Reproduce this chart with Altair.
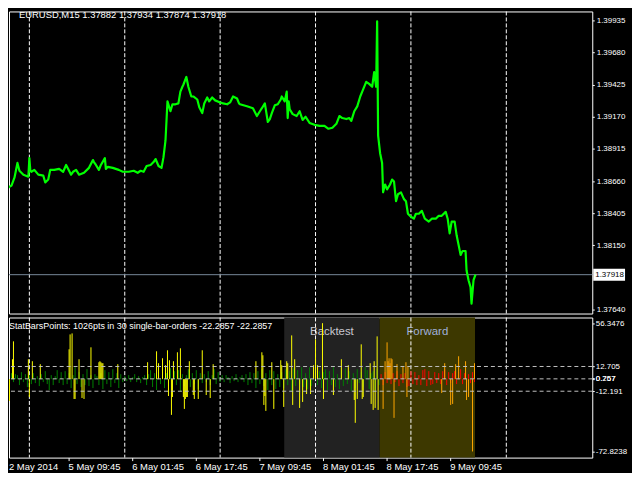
import altair as alt
import pandas as pd

# ---------------- data ----------------
# price line: (bar index, close)
price_points = [
    (0, 1.38656), (1, 1.38695), (2, 1.38571), (4, 1.38610), (7, 1.38625), (10, 1.38687),
    (13, 1.38804), (15, 1.38742), (19, 1.38711), (24, 1.38695), (25, 1.38842), (26, 1.38742),
    (27, 1.38734), (30, 1.38749), (34, 1.38711), (39, 1.38703), (41, 1.38649), (44, 1.38672),
    (46, 1.38749), (50, 1.38749), (55, 1.38757), (59, 1.38734), (62, 1.38788), (65, 1.38742),
    (67, 1.38711), (69, 1.38734), (72, 1.38749), (75, 1.38711), (80, 1.38726), (85, 1.38765),
    (89, 1.38827), (90, 1.38811), (92, 1.38788), (95, 1.38749), (97, 1.38788), (101, 1.38842),
    (102, 1.38757), (104, 1.38773), (109, 1.38765), (112, 1.38757), (115, 1.38749), (119, 1.38734),
    (122, 1.38734), (125, 1.38734), (130, 1.38742), (134, 1.38726), (137, 1.38742), (140, 1.38734),
    (143, 1.38780), (147, 1.38788), (150, 1.38811), (152, 1.38835), (155, 1.38780), (158, 1.38765),
    (160, 1.38850), (162, 1.38982), (163, 1.39137), (164, 1.39292), (167, 1.39214), (169, 1.39269),
    (172, 1.39269), (175, 1.39276), (177, 1.39369), (179, 1.39408), (180, 1.39424), (183, 1.39486),
    (185, 1.39408), (188, 1.39331), (190, 1.39331), (194, 1.39307), (196, 1.39245), (199, 1.39199),
    (201, 1.39276), (204, 1.39323), (206, 1.39292), (209, 1.39323), (212, 1.39300), (217, 1.39284),
    (220, 1.39276), (224, 1.39269), (227, 1.39284), (230, 1.39331), (234, 1.39315), (236, 1.39276),
    (237, 1.39269), (244, 1.39253), (250, 1.39238), (254, 1.39176), (257, 1.39214), (259, 1.39238),
    (262, 1.39276), (265, 1.39129), (267, 1.39152), (269, 1.39199), (272, 1.39261), (275, 1.39269),
    (278, 1.39307), (279, 1.39331), (282, 1.39292), (284, 1.39369), (285, 1.39160), (286, 1.39292),
    (287, 1.39230), (290, 1.39191), (294, 1.39176), (297, 1.39214), (300, 1.39145), (303, 1.39170),
    (307, 1.39121), (312, 1.39106), (317, 1.39098), (322, 1.39098), (326, 1.39075), (330, 1.39083),
    (334, 1.39114), (337, 1.39176), (340, 1.39160), (344, 1.39152), (347, 1.39160), (349, 1.39137),
    (352, 1.39214), (355, 1.39253), (358, 1.39331), (360, 1.39369), (364, 1.39447), (367, 1.39431),
    (370, 1.39408), (372, 1.39524), (374, 1.39408), (375, 1.39927), (376, 1.39021), (378, 1.38881),
    (380, 1.38804), (381, 1.38571), (383, 1.38633), (385, 1.38594), (388, 1.38633), (390, 1.38672),
    (392, 1.38656), (394, 1.38501), (396, 1.38556), (399, 1.38571), (402, 1.38517), (404, 1.38501),
    (406, 1.38401), (409, 1.38377), (412, 1.38362), (414, 1.38401), (417, 1.38401), (420, 1.38424),
    (423, 1.38362), (427, 1.38339), (430, 1.38362), (434, 1.38362), (437, 1.38385), (440, 1.38385),
    (444, 1.38416), (446, 1.38362), (448, 1.38246), (450, 1.38339), (453, 1.38339), (455, 1.38230),
    (457, 1.38153), (459, 1.38075), (461, 1.38106), (464, 1.38106), (465, 1.37951), (467, 1.37874),
    (469, 1.37819), (470, 1.37688), (472, 1.37874), (474, 1.37918),
]
price_ticks = [1.39935, 1.39680, 1.39425, 1.39170, 1.38915, 1.38660, 1.38405, 1.38150, 1.37640]
current_price = 1.37918
title_top = "EURUSD,M15  1.37882 1.37934 1.37874 1.37918"

grid_bars = [25, 121, 217, 313, 409, 505]
x_tick_bars = [64, 128, 192, 256, 320, 384, 448]
x_tick_labels = ["5 May 09:45", "6 May 01:45", "6 May 17:45", "7 May 09:45",
                 "8 May 01:45", "8 May 17:45", "9 May 09:45"]
first_label = "2 May 2014"

# indicator: large bars (bar index, value)
big_bars = [
    (1, -16), (5, -22), (8, 20), (9, 38), (24, 20), (25, -18), (28, 18), (36, 15), (65, 30),
    (66, 45), (68, 46), (70, -20), (71, -20), (75, 20), (78, -19), (80, -20), (87, 32), (95, 17),
    (96, 18), (97, 17), (98, 16), (99, 16), (114, 15),
    (144, 17), (153, 28), (155, 16), (159, 21), (162, 14), (164, 29), (165, -17), (166, 19),
    (168, -36), (169, -18), (170, 18), (174, 27), (177, 31), (180, -18), (181, -30), (182, -20),
    (183, -18), (184, -18), (186, 18), (190, -16), (191, -20), (195, -20), (199, 29), (203, -16),
    (207, -19), (210, 15),
    (253, 18), (259, 27), (260, 24), (261, -26), (262, -17), (263, -32), (269, 17), (271, -30),
    (278, 19), (279, 14), (281, -28), (284, 18), (285, 16), (289, 44), (290, -26), (292, 20),
    (297, -29), (300, -23), (304, -15), (308, -15), (311, 14), (313, 40), (315, 14), (320, 56.3),
    (321, -20), (331, -16), (339, 20), (346, 14), (352, -21), (353, -44), (355, -20),
    (359, 35), (360, -20), (361, -18), (368, 16), (369, -25), (371, -31), (372, 18), (373, -29),
    (375, 43), (376, -31),
    (381, -30), (383, 18), (385, 37), (386, 18), (387, 21), (388, 16), (389, 21), (390, 20),
    (392, -39), (395, 15), (401, 13), (404, 17), (405, -18), (406, 13), (440, -14), (443, 16),
    (449, -26), (451, -25), (454, 15), (457, 23), (464, 18), (465, -21), (467, -18), (471, -72.8),
    (473, 16),
]
# indicator: small bars, every other bar starting at bar 1
small_val = [
    3, 9, -4, 6, -3, 5, 4, -6, 7, -3,
    5, -8, 4, -5, 6, -4, 3, -7, 5, -3,
    8, -5, -11, 4, -6, 3, 9, -4, 7, -6,
    8, -5, 6, -9, 4, 12, -5, 7, -8, 5,
    -6, 10, -7, 4, -9, 5, 3, -6, 6, -10,
    9, -5, 7, -8, 10, -4, 6, -9, 5, -3,
    3, -2, 4, -3, 2, 5, -3, 3, -4, 2,
    4, -6, 5, 9, -8, 6, -11, 7, -5, 10,
    -9, 6, -7, 11, -10, 8, -6, 9, -12, 5,
    -7, 4, 10, -8, 6, -5, 9, -10, 6, -4,
    5, -3, 8, -6, 4, 10, -5, 7, -3, 4,
    -3, 4, 2, -4, 3, -2, 5, -3, 2, 4,
    -3, 5, -6, 7, -4, 6, -9, 8, -5, 10,
    -7, 6, -11, 9, -6, 8, -10, 5, -8, 7,
    -9, 10, -6, 8, -12, 11, -7, 9, -5, 12,
    -8, 6, -10, 12, -7, 9, 11, -6, 8, -9,
    7, 10, -11, 8, -6, 12, -8, 5, -10, 9,
    -7, 11, -5, 8, -12, 6, -9, 10, -4, 7,
    -8, 12, 9, -10, 6, 8, -11, 10, -6,
    5, -6, 7, -4, 9, -5, 6, -3, 8, -7,
    5, -4, 6, -8, -7, 8, -5, 7, -6, 4,
    -6, 9, 10, -7, 8, -6, -5, 7, -4, 6,
    -5, 8, 10, -6, 7, -4, 6, 8, -5, 7,
    10, -5, 6, -6, 5, -4, 7, -3,
]
small_bar = list(range(1, 1 + 2 * len(small_val), 2))

levels = [12.705, 0.267, -12.191]
ind_labels = [56.3476, 12.705, 0.757, 0.267, -12.191, -72.8238]
title_bottom = "StatBarsPoints: 1026pts in 30 single-bar-orders -22.2857 -22.2857"
region_names = ["Backtest", "Forward"]
region_start = [282, 378]
region_end = [378, 474]

# ---------------- frames ----------------
price_df = pd.DataFrame(price_points, columns=["bar", "close"])
grid_df = pd.DataFrame({"bar": grid_bars})
cur_df = pd.DataFrame({"p": [current_price], "t": [f"{current_price:.5f}"]})

hi, lo = levels[0], levels[-1]
fwd_start = region_start[1]
rows = [(b, v) for b, v in zip(small_bar, small_val)] + big_bars
def cat(b, v):
    big = v > hi or v < lo
    if b >= fwd_start:
        return "orange" if big else "red"
    return "yellow" if big else "green"
bars_df = pd.DataFrame([(b, v, cat(b, v)) for b, v in rows], columns=["bar", "v", "cat"])
bars_df["order"] = range(len(bars_df))
region_df = pd.DataFrame({"name": region_names, "start": region_start, "end": region_end})
level_df = pd.DataFrame({"lv": levels})

FONT = "Liberation Sans"
W = 587
H_TOP = 304
H_BOT = 141
xscale = alt.Scale(domain=[4.5, 4.5 + W], nice=False, zero=False)
ytop = alt.Scale(domain=[1.37610, 1.40005], nice=False, zero=False)
ybot = alt.Scale(domain=[-79, 62], nice=False, zero=False)

y_axis_top = alt.Axis(
    orient="right", values=price_ticks, format=".5f", title=None,
    labelColor="white", tickColor="white", tickSize=2, labelPadding=2,
    domain=False, grid=False, labelFont=FONT, labelFontSize=8)
x_axis_bot = alt.Axis(
    orient="bottom", values=x_tick_bars, title=None,
    labelExpr=f"{x_tick_labels}[indexof({x_tick_bars}, datum.value)]",
    labelAlign="left", labelBaseline="top", labelPadding=1, tickSize=3,
    labelColor="white", tickColor="white", domain=False, grid=False,
    labelFont=FONT, labelFontSize=9.5)
y_axis_bot = alt.Axis(
    orient="right", values=ind_labels, title=None, labelExpr="'' + datum.value",
    labelOverlap=False, labelColor="white", tickColor="white", tickSize=2, labelPadding=1,
    domain=False, grid=False, labelFont=FONT, labelFontSize=8)

# ---------------- top panel ----------------
grid_top = alt.Chart(grid_df).mark_rule(color="white", strokeDash=[4, 2], strokeWidth=1).encode(
    x=alt.X("bar:Q", scale=xscale, axis=None)
)
cur_line = alt.Chart(cur_df).mark_rule(color="#778899", strokeWidth=1).encode(
    y=alt.Y("p:Q", scale=ytop, axis=y_axis_top)
)
line = alt.Chart(price_df).mark_line(color="#00ff00", strokeWidth=2.2, strokeJoin="round",
                                     clip=True).encode(
    x=alt.X("bar:Q", scale=xscale, axis=None),
    y=alt.Y("close:Q", scale=ytop, axis=y_axis_top),
)
cur_box = alt.Chart(cur_df).mark_rule(color="white", strokeWidth=12, strokeCap="butt").encode(
    x=alt.value(W + 1), x2=alt.value(W + 33), y=alt.Y("p:Q", scale=ytop, axis=y_axis_top)
)
cur_text = alt.Chart(cur_df).mark_text(color="black", align="left", baseline="middle",
                                       font=FONT, fontSize=8).encode(
    x=alt.value(W + 3), y=alt.Y("p:Q", scale=ytop, axis=y_axis_top), text="t:N"
)
ttl_top = alt.Chart(pd.DataFrame({"t": [title_top]})).mark_text(
    color="white", align="left", baseline="middle", font=FONT, fontSize=9.5).encode(
    x=alt.value(10), y=alt.value(4), text="t:N"
)
top = alt.layer(grid_top, cur_line, line, cur_box, cur_text, ttl_top).properties(width=W, height=H_TOP)

# ---------------- bottom panel ----------------
bg = alt.Chart(region_df).transform_calculate(
    x0="datum.start - 0.5", x1="datum.end - 0.5"
).mark_rect().encode(
    x=alt.X("x0:Q", scale=xscale, axis=x_axis_bot), x2="x1:Q",
    y=alt.value(0), y2=alt.value(H_BOT),
    color=alt.Color("name:N", scale=alt.Scale(domain=region_names, range=["#222222", "#3d3800"]), legend=None),
)
grid_bot = alt.Chart(grid_df).mark_rule(color="white", strokeDash=[4, 2], strokeWidth=1).encode(
    x=alt.X("bar:Q", scale=xscale, axis=x_axis_bot)
)
def region_text(name, colour):
    return alt.Chart(region_df).transform_filter(alt.datum.name == name).transform_calculate(
        mid="(datum.start + datum.end) / 2 - 0.5"
    ).mark_text(color=colour, font=FONT, fontSize=11.5, baseline="middle").encode(
        x=alt.X("mid:Q", scale=xscale, axis=x_axis_bot), y=alt.value(15), text="name:N"
    )
bars = alt.Chart(bars_df).mark_rule(strokeWidth=1, clip=True).encode(
    x=alt.X("bar:Q", scale=xscale, axis=x_axis_bot),
    y=alt.Y("v:Q", scale=ybot, axis=y_axis_bot),
    y2=alt.Y2Datum(0),
    color=alt.Color("cat:N", scale=alt.Scale(domain=["green", "yellow", "red", "orange"],
                                             range=["#008000", "#ffff00", "#ff0000", "#ffa500"]),
                    legend=None),
    order="order:Q",
)
lvl = alt.Chart(level_df).mark_rule(color="#c0c0c0", strokeDash=[4, 3], strokeWidth=1).encode(
    y=alt.Y("lv:Q", scale=ybot, axis=y_axis_bot)
)
ttl_bot = alt.Chart(pd.DataFrame({"t": [title_bottom]})).mark_text(
    color="white", align="left", baseline="middle", font=FONT, fontSize=9).encode(
    x=alt.value(0), y=alt.value(9), text="t:N"
)
first_lbl = alt.Chart(pd.DataFrame({"t": [first_label]})).mark_text(
    color="white", align="left", baseline="top", font=FONT, fontSize=9.5).encode(
    x=alt.value(0), y=alt.value(H_BOT + 4), text="t:N"
)
bottom = alt.layer(
    bg, region_text("Backtest", "#c8c8d0"), region_text("Forward", "#a0b0dc"),
    grid_bot, bars, lvl, ttl_bot, first_lbl
).resolve_scale(color="independent").properties(width=W, height=H_BOT)

chart = alt.vconcat(top, bottom, spacing=2).properties(
    background="black", padding=0
).configure_view(stroke="white", strokeWidth=1)

chart.save("out.html", embed_options={"renderer": "svg", "actions": False})
